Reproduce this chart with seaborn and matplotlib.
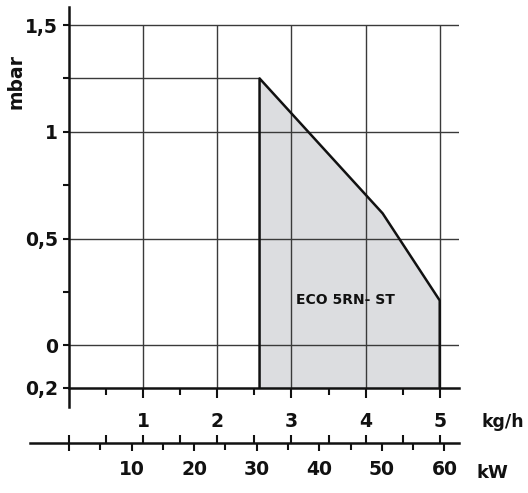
import numpy as np
import pandas as pd
import matplotlib
matplotlib.use("Agg")
import matplotlib.pyplot as plt
import seaborn as sns

# working field ECO 5RN- ST
load_kgh = [2.57, 2.57, 4.23, 5.0, 5.0]
pressure_mbar = [-0.2, 1.25, 0.618, 0.21, -0.2]

kgh_ticks = [1, 2, 3, 4, 5]
kgh_minor = [0.5, 1.5, 2.5, 3.5, 4.5]
mbar_ticks = [1.5, 1.0, 0.5, 0.0, -0.2]
mbar_labels = ["1,5", "1", "0,5", "0", "0,2"]
mbar_minor = [1.25, 0.75, 0.25]
kw_ticks = [0, 10, 20, 30, 40, 50, 60]
kw_labels = ["", "10", "20", "30", "40", "50", "60"]
kw_minor = [5, 15, 25, 35, 45, 55]
KW_PER_KGH = 11.85

sns.set_style("ticks")
plt.rcParams["font.family"] = ["DejaVu Sans"]
plt.rcParams["font.weight"] = "bold"

fig = plt.figure(figsize=(5.28, 4.93), dpi=100)
ax = fig.add_axes([0.1307, 0.213, 0.7386, 0.773])
ax.set_xlim(0, 5.26)
ax.set_ylim(-0.2, 1.585)

df = pd.DataFrame({"kgh": load_kgh, "mbar": pressure_mbar})
ax.fill(df["kgh"], df["mbar"], color="#dcdde0", zorder=1, lw=0)

# grid
ax.hlines([1.5, 1.0, 0.5, 0.0], 0, 5.26, color="#3a3a3a", lw=1.0, zorder=2)
ax.hlines(pressure_mbar[1], 0, load_kgh[1], color="#3a3a3a", lw=1.0, zorder=2)
ax.vlines(kgh_ticks, -0.2, 1.5, color="#3a3a3a", lw=1.0, zorder=2)

sns.lineplot(data=df, x="kgh", y="mbar", sort=False, estimator=None,
             color="#111111", lw=1.8, ax=ax, zorder=3)

ax.text(3.73, 0.21, "ECO 5RN- ST", fontsize=10, fontweight="bold",
        ha="center", va="center", color="#111111", zorder=4)

for s in ["top", "right"]:
    ax.spines[s].set_visible(False)
for s in ["left", "bottom"]:
    ax.spines[s].set_linewidth(1.8)
    ax.spines[s].set_color("#111111")
ax.spines["left"].set_bounds(-0.29, 1.585)

ax.set_xticks(kgh_ticks)
ax.set_xticklabels([str(t) for t in kgh_ticks])
ax.set_xticks(kgh_minor, minor=True)
ax.set_yticks(mbar_ticks)
ax.set_yticklabels(mbar_labels)
ax.set_yticks(mbar_minor, minor=True)
ax.tick_params(axis="x", which="major", length=7, width=1.5, pad=10,
               labelsize=13.5, colors="#111111")
ax.tick_params(axis="x", which="minor", length=5, width=1.5, colors="#111111")
ax.tick_params(axis="y", which="both", length=4, width=1.5, pad=4,
               labelsize=13.5, colors="#111111")
ax.set_xlabel("")
ax.set_ylabel("")

ax.text(-0.716, 1.236, "mbar", rotation=90, fontsize=13.5, fontweight="bold",
        ha="center", va="center", color="#111111")
ax.text(5.57, -0.358, "kg/h", fontsize=12.5, fontweight="bold",
        ha="left", va="center", color="#111111")
ax.text(5.50, -0.6, "kW", fontsize=13, fontweight="bold",
        ha="left", va="center", color="#111111")

# kW scale
sec = ax.secondary_xaxis(-0.1444, functions=(lambda x: x * KW_PER_KGH,
                                             lambda x: x / KW_PER_KGH))
sec.set_xticks(kw_ticks)
sec.set_xticklabels(kw_labels)
sec.set_xticks(kw_minor, minor=True)
sec.tick_params(which="major", length=6, width=1.5, pad=6, labelsize=13.5,
                colors="#111111")
sec.tick_params(which="minor", length=5, width=1.5, colors="#111111")
sec.spines["bottom"].set_linewidth(1.8)
sec.spines["bottom"].set_color("#111111")
sec.spines["bottom"].set_bounds(-6.2, 62.4)

# kg/h marks on the kW line, pointing up
sec2 = ax.secondary_xaxis(-0.1444)
sec2.set_xticks([0] + kgh_ticks + kgh_minor)
sec2.set_xticklabels([])
sec2.tick_params(direction="in", length=6, width=1.5, colors="#111111")
sec2.spines["bottom"].set_visible(False)

fig.savefig("out.png", dpi=100)
